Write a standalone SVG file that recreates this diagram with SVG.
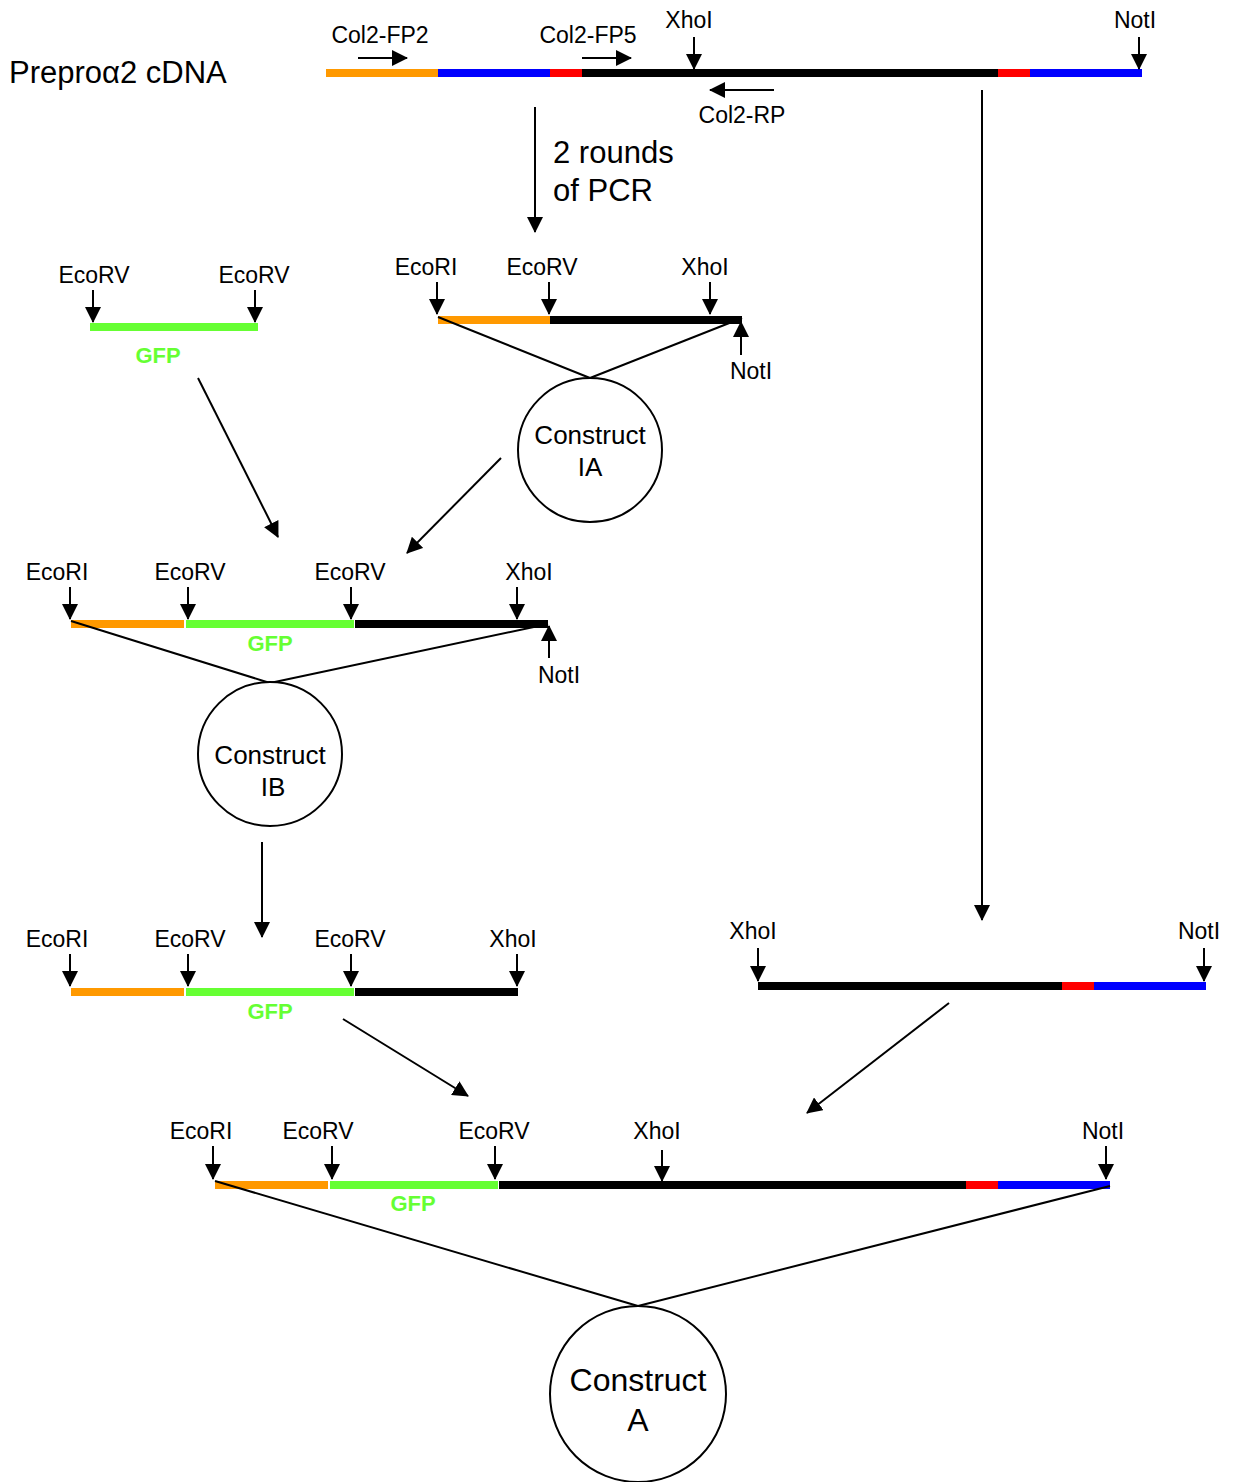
<svg xmlns="http://www.w3.org/2000/svg" width="1235" height="1482" viewBox="0 0 1235 1482">
<style>
text{font-family:"Liberation Sans",Arial,sans-serif;fill:#000}
.lb{font-size:23px;text-anchor:middle}
.big{font-size:31px}
.cn{font-size:26px;text-anchor:middle}
.gfp{font-size:22px;font-weight:bold;fill:#66ff33;text-anchor:middle}
.bar{stroke-width:8;fill:none}
.o{stroke:#ff9900}.b{stroke:#0000ff}.r{stroke:#ff0000}.k{stroke:#000}.g{stroke:#66ff33}
.ar{stroke:#000;stroke-width:2;fill:none;marker-end:url(#ah)}
.ln{stroke:#000;stroke-width:2;fill:none}
.cir{stroke:#000;stroke-width:2;fill:#fff}
</style>
<defs>
<marker id="ah" markerUnits="userSpaceOnUse" markerWidth="16" markerHeight="16" refX="15" refY="8" orient="auto">
<path d="M0,0 L16,8 L0,16 Z" fill="#000"/>
</marker>
</defs>
<rect width="1235" height="1482" fill="#fff"/>

<g id="connectors">
<line class="ar" x1="535" y1="107" x2="535" y2="232"/>
<line class="ar" x1="982" y1="90" x2="982" y2="920"/>
<line class="ar" x1="198" y1="378" x2="278" y2="537"/>
<line class="ar" x1="501" y1="458" x2="407" y2="553"/>
<line class="ar" x1="262" y1="842" x2="262" y2="937"/>
<line class="ar" x1="343" y1="1019" x2="468" y2="1096"/>
<line class="ar" x1="949" y1="1003" x2="807" y2="1113"/>
</g>

<g id="preproa2-cdna">
<text class="big" x="9" y="83">Prepro&#945;2 cDNA</text>
<line class="bar o" x1="326" y1="73" x2="438" y2="73"/>
<line class="bar b" x1="438" y1="73" x2="550" y2="73"/>
<line class="bar r" x1="550" y1="73" x2="582" y2="73"/>
<line class="bar k" x1="582" y1="73" x2="998" y2="73"/>
<line class="bar r" x1="998" y1="73" x2="1030" y2="73"/>
<line class="bar b" x1="1030" y1="73" x2="1142" y2="73"/>
<text class="lb" x="380" y="43">Col2-FP2</text>
<line class="ar" x1="358" y1="58" x2="407" y2="58"/>
<text class="lb" x="588" y="43">Col2-FP5</text>
<line class="ar" x1="582" y1="58" x2="631" y2="58"/>
<text class="lb" x="689" y="28">XhoI</text>
<line class="ar" x1="694" y1="37" x2="694" y2="69"/>
<text class="lb" x="1135" y="28">NotI</text>
<line class="ar" x1="1139" y1="37" x2="1139" y2="69"/>
<line class="ar" x1="774" y1="90" x2="710" y2="90"/>
<text class="lb" x="742" y="123">Col2-RP</text>
<text class="big" x="553" y="163">2 rounds</text>
<text class="big" x="553" y="201">of PCR</text>
</g>

<g id="gfp-fragment">
<line class="bar g" x1="90" y1="327" x2="258" y2="327"/>
<text class="lb" x="94" y="283">EcoRV</text>
<line class="ar" x1="93" y1="290" x2="93" y2="322"/>
<text class="lb" x="254" y="283">EcoRV</text>
<line class="ar" x1="255" y1="290" x2="255" y2="322"/>
<text class="gfp" x="158" y="363">GFP</text>
</g>

<g id="construct-ia">
<line class="bar o" x1="438" y1="320" x2="550" y2="320"/>
<line class="bar k" x1="550" y1="320" x2="742" y2="320"/>
<line class="ln" x1="438" y1="317" x2="590" y2="378"/>
<line class="ln" x1="742" y1="318" x2="590" y2="378"/>
<text class="lb" x="426" y="275">EcoRI</text>
<line class="ar" x1="437" y1="282" x2="437" y2="314"/>
<text class="lb" x="542" y="275">EcoRV</text>
<line class="ar" x1="549" y1="282" x2="549" y2="314"/>
<text class="lb" x="705" y="275">XhoI</text>
<line class="ar" x1="710" y1="282" x2="710" y2="314"/>
<line class="ar" x1="741" y1="355" x2="741" y2="322"/>
<text class="lb" x="751" y="379">NotI</text>
<circle class="cir" cx="590" cy="450" r="72"/>
<text class="cn" x="590" y="444">Construct</text>
<text class="cn" x="590" y="476">IA</text>
</g>

<g id="construct-ib">
<line class="bar o" x1="71" y1="624" x2="184" y2="624"/>
<line class="bar g" x1="186" y1="624" x2="354" y2="624"/>
<line class="bar k" x1="355" y1="624" x2="548" y2="624"/>
<line class="ln" x1="71" y1="621" x2="270" y2="683"/>
<line class="ln" x1="548" y1="624" x2="270" y2="683"/>
<text class="lb" x="57" y="580">EcoRI</text>
<line class="ar" x1="70" y1="587" x2="70" y2="619"/>
<text class="lb" x="190" y="580">EcoRV</text>
<line class="ar" x1="188" y1="587" x2="188" y2="619"/>
<text class="lb" x="350" y="580">EcoRV</text>
<line class="ar" x1="351" y1="587" x2="351" y2="619"/>
<text class="lb" x="529" y="580">XhoI</text>
<line class="ar" x1="517" y1="587" x2="517" y2="619"/>
<line class="ar" x1="549" y1="658" x2="549" y2="626"/>
<text class="lb" x="559" y="683">NotI</text>
<text class="gfp" x="270" y="651">GFP</text>
<circle class="cir" cx="270" cy="754" r="72"/>
<text class="cn" x="270" y="764">Construct</text>
<text class="cn" x="273" y="796">IB</text>
</g>

<g id="ib-fragment">
<line class="bar o" x1="71" y1="992" x2="184" y2="992"/>
<line class="bar g" x1="186" y1="992" x2="354" y2="992"/>
<line class="bar k" x1="355" y1="992" x2="518" y2="992"/>
<text class="lb" x="57" y="947">EcoRI</text>
<line class="ar" x1="70" y1="954" x2="70" y2="986"/>
<text class="lb" x="190" y="947">EcoRV</text>
<line class="ar" x1="188" y1="954" x2="188" y2="986"/>
<text class="lb" x="350" y="947">EcoRV</text>
<line class="ar" x1="351" y1="954" x2="351" y2="986"/>
<text class="lb" x="513" y="947">XhoI</text>
<line class="ar" x1="517" y1="954" x2="517" y2="986"/>
<text class="gfp" x="270" y="1019">GFP</text>
</g>

<g id="xhoi-noti-fragment">
<line class="bar k" x1="758" y1="986" x2="1062" y2="986"/>
<line class="bar r" x1="1062" y1="986" x2="1094" y2="986"/>
<line class="bar b" x1="1094" y1="986" x2="1206" y2="986"/>
<text class="lb" x="753" y="939">XhoI</text>
<line class="ar" x1="758" y1="948" x2="758" y2="981"/>
<text class="lb" x="1199" y="939">NotI</text>
<line class="ar" x1="1204" y1="948" x2="1204" y2="981"/>
</g>

<g id="construct-a">
<line class="bar o" x1="215" y1="1185" x2="328" y2="1185"/>
<line class="bar g" x1="330" y1="1185" x2="498" y2="1185"/>
<line class="bar k" x1="499" y1="1185" x2="966" y2="1185"/>
<line class="bar r" x1="966" y1="1185" x2="998" y2="1185"/>
<line class="bar b" x1="998" y1="1185" x2="1110" y2="1185"/>
<line class="ln" x1="215" y1="1181" x2="638" y2="1306"/>
<line class="ln" x1="1110" y1="1186" x2="638" y2="1306"/>
<text class="lb" x="201" y="1139">EcoRI</text>
<line class="ar" x1="213" y1="1146" x2="213" y2="1179"/>
<text class="lb" x="318" y="1139">EcoRV</text>
<line class="ar" x1="332" y1="1146" x2="332" y2="1179"/>
<text class="lb" x="494" y="1139">EcoRV</text>
<line class="ar" x1="495" y1="1146" x2="495" y2="1179"/>
<text class="lb" x="657" y="1139">XhoI</text>
<line class="ar" x1="662" y1="1150" x2="662" y2="1181"/>
<text class="lb" x="1103" y="1139">NotI</text>
<line class="ar" x1="1106" y1="1146" x2="1106" y2="1179"/>
<text class="gfp" x="413" y="1211">GFP</text>
<circle class="cir" cx="638" cy="1394" r="88"/>
<text class="cn" x="638" y="1391" style="font-size:32px">Construct</text>
<text class="cn" x="638" y="1431" style="font-size:32px">A</text>
</g>
</svg>
